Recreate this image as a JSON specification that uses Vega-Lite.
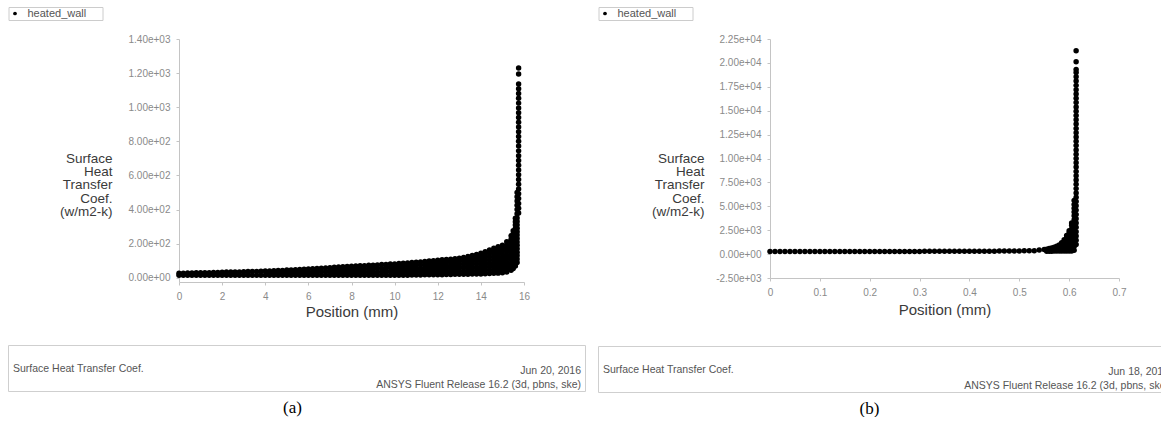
{
  "$schema": "https://vega.github.io/schema/vega-lite/v6.json",
  "background": "white",
  "padding": {"left": 7, "top": 6, "right": 0, "bottom": 0},
  "config": {
    "view": {"stroke": null},
    "font": "Liberation Sans",
    "axis": {"grid": false, "domainColor": "#c4c4c4", "tickColor": "#c4c4c4", "tickSize": 3, "labelColor": "#8a8a8a", "labelFontSize": 10, "labelPadding": 6, "titleColor": "#3a3a3a", "titleFontWeight": "normal", "titleFontSize": 15, "labelOverlap": false, "labelFlush": false},
    "legend": {"orient": "none", "legendX": 0.5, "legendY": -32, "strokeColor": "#cccccc", "fillColor": "white", "padding": 1, "symbolType": "circle", "symbolSize": 14, "labelFontSize": 11, "labelColor": "#555555", "labelOffset": 7},
    "title": {"font": "Liberation Serif", "fontSize": 17, "fontWeight": "normal", "color": "#000000"}
  },
  "datasets": {
    "a": [
      {"position":0,"htc":14},{"position":0,"htc":27},{"position":0.2,"htc":14},{"position":0.2,"htc":27},{"position":0.4,"htc":14},{"position":0.4,"htc":28},{"position":0.6,"htc":14},{"position":0.6,"htc":28},{"position":0.8,"htc":14},{"position":0.8,"htc":29},{"position":1,"htc":14},{"position":1,"htc":29},{"position":1.2,"htc":14},{"position":1.2,"htc":30},{"position":1.4,"htc":14},{"position":1.4,"htc":30},{"position":1.6,"htc":14},{"position":1.6,"htc":31},{"position":1.8,"htc":14},{"position":1.8,"htc":31},{"position":2,"htc":14},{"position":2,"htc":32},{"position":2.2,"htc":14},{"position":2.2,"htc":33},{"position":2.4,"htc":14},{"position":2.4,"htc":33},{"position":2.6,"htc":14},{"position":2.6,"htc":34},{"position":2.8,"htc":14},{"position":2.8,"htc":34},{"position":3,"htc":14},{"position":3,"htc":35},{"position":3.2,"htc":14},{"position":3.2,"htc":36},{"position":3.4,"htc":14},{"position":3.4,"htc":36},{"position":3.6,"htc":14},{"position":3.6,"htc":37},{"position":3.8,"htc":14},{"position":3.8,"htc":38},{"position":4,"htc":14},{"position":4,"htc":39},
      {"position":4.2,"htc":14},{"position":4.2,"htc":27},{"position":4.2,"htc":40},{"position":4.4,"htc":14},{"position":4.4,"htc":27},{"position":4.4,"htc":41},{"position":4.6,"htc":14},{"position":4.6,"htc":28},{"position":4.6,"htc":42},{"position":4.8,"htc":14},{"position":4.8,"htc":28},{"position":4.8,"htc":43},{"position":5,"htc":14},{"position":5,"htc":29},{"position":5,"htc":45},{"position":5.2,"htc":14},{"position":5.2,"htc":30},{"position":5.2,"htc":46},{"position":5.4,"htc":14},{"position":5.4,"htc":30},{"position":5.4,"htc":47},{"position":5.6,"htc":14},{"position":5.6,"htc":31},{"position":5.6,"htc":48},{"position":5.8,"htc":14},{"position":5.8,"htc":32},{"position":5.8,"htc":50},{"position":6,"htc":14},{"position":6,"htc":32},{"position":6,"htc":51},{"position":6.2,"htc":14},{"position":6.2,"htc":33},{"position":6.2,"htc":53},{"position":6.4,"htc":14},{"position":6.4,"htc":34},{"position":6.4,"htc":54},{"position":6.6,"htc":14},{"position":6.6,"htc":35},{"position":6.6,"htc":56},{"position":6.8,"htc":14},{"position":6.8,"htc":35},{"position":6.8,"htc":57},{"position":7,"htc":14},{"position":7,"htc":36},{"position":7,"htc":59},
      {"position":7.2,"htc":14},{"position":7.2,"htc":30},{"position":7.2,"htc":45},{"position":7.2,"htc":61},{"position":7.4,"htc":14},{"position":7.4,"htc":31},{"position":7.4,"htc":47},{"position":7.4,"htc":63},{"position":7.6,"htc":14},{"position":7.6,"htc":31},{"position":7.6,"htc":48},{"position":7.6,"htc":65},{"position":7.8,"htc":14},{"position":7.8,"htc":32},{"position":7.8,"htc":49},{"position":7.8,"htc":66},{"position":8,"htc":14},{"position":8,"htc":32},{"position":8,"htc":50},{"position":8,"htc":68},{"position":8.2,"htc":14},{"position":8.2,"htc":32},{"position":8.2,"htc":51},{"position":8.2,"htc":69},{"position":8.4,"htc":14},{"position":8.4,"htc":33},{"position":8.4,"htc":51},{"position":8.4,"htc":70},{"position":8.6,"htc":14},{"position":8.6,"htc":33},{"position":8.6,"htc":52},{"position":8.6,"htc":71},{"position":8.8,"htc":14},{"position":8.8,"htc":34},{"position":8.8,"htc":53},{"position":8.8,"htc":73},{"position":9,"htc":14},{"position":9,"htc":34},{"position":9,"htc":54},{"position":9,"htc":74},{"position":9.2,"htc":14},{"position":9.2,"htc":34},{"position":9.2,"htc":55},{"position":9.2,"htc":75},{"position":9.4,"htc":14},{"position":9.4,"htc":35},{"position":9.4,"htc":56},{"position":9.4,"htc":77},{"position":9.6,"htc":14},{"position":9.6,"htc":35},{"position":9.6,"htc":57},{"position":9.6,"htc":78},{"position":9.8,"htc":14},{"position":9.8,"htc":36},{"position":9.8,"htc":58},{"position":9.8,"htc":80},
      {"position":10,"htc":14},{"position":10,"htc":31},{"position":10,"htc":47},{"position":10,"htc":64},{"position":10,"htc":81},{"position":10.2,"htc":14},{"position":10.2,"htc":31},{"position":10.2,"htc":48},{"position":10.2,"htc":66},{"position":10.2,"htc":83},{"position":10.4,"htc":15},{"position":10.4,"htc":32},{"position":10.4,"htc":49},{"position":10.4,"htc":67},{"position":10.4,"htc":85},{"position":10.6,"htc":15},{"position":10.6,"htc":33},{"position":10.6,"htc":51},{"position":10.6,"htc":69},{"position":10.6,"htc":87},{"position":10.8,"htc":16},{"position":10.8,"htc":34},{"position":10.8,"htc":52},{"position":10.8,"htc":71},{"position":10.8,"htc":89},{"position":11,"htc":16},{"position":11,"htc":35},{"position":11,"htc":53},{"position":11,"htc":72},{"position":11,"htc":91},{"position":11.2,"htc":16},{"position":11.2,"htc":35},{"position":11.2,"htc":54},{"position":11.2,"htc":74},{"position":11.2,"htc":93},{"position":11.4,"htc":17},{"position":11.4,"htc":36},{"position":11.4,"htc":56},{"position":11.4,"htc":76},{"position":11.4,"htc":96},{"position":11.6,"htc":17},{"position":11.6,"htc":37},{"position":11.6,"htc":57},{"position":11.6,"htc":78},{"position":11.6,"htc":98},
      {"position":11.8,"htc":18},{"position":11.8,"htc":34},{"position":11.8,"htc":51},{"position":11.8,"htc":67},{"position":11.8,"htc":84},{"position":11.8,"htc":100},{"position":12,"htc":18},{"position":12,"htc":35},{"position":12,"htc":52},{"position":12,"htc":69},{"position":12,"htc":86},{"position":12,"htc":103},{"position":12.2,"htc":18},{"position":12.2,"htc":35},{"position":12.2,"htc":53},{"position":12.2,"htc":70},{"position":12.2,"htc":88},{"position":12.2,"htc":105},{"position":12.4,"htc":19},{"position":12.4,"htc":36},{"position":12.4,"htc":54},{"position":12.4,"htc":71},{"position":12.4,"htc":89},{"position":12.4,"htc":107},{"position":12.6,"htc":19},{"position":12.6,"htc":37},{"position":12.6,"htc":55},{"position":12.6,"htc":72},{"position":12.6,"htc":91},{"position":12.6,"htc":109},{"position":12.8,"htc":20},{"position":12.8,"htc":38},{"position":12.8,"htc":56},{"position":12.8,"htc":75},{"position":12.8,"htc":93},{"position":12.8,"htc":112},{"position":13,"htc":20},{"position":13,"htc":39},{"position":13,"htc":58},{"position":13,"htc":77},{"position":13,"htc":96},{"position":13,"htc":115},{"position":13.2,"htc":21},{"position":13.2,"htc":40},{"position":13.2,"htc":60},{"position":13.2,"htc":80},{"position":13.2,"htc":99},{"position":13.2,"htc":119},
      {"position":13.4,"htc":21},{"position":13.4,"htc":38},{"position":13.4,"htc":55},{"position":13.4,"htc":72},{"position":13.4,"htc":90},{"position":13.4,"htc":107},{"position":13.4,"htc":124},{"position":13.6,"htc":22},{"position":13.6,"htc":40},{"position":13.6,"htc":58},{"position":13.6,"htc":77},{"position":13.6,"htc":95},{"position":13.6,"htc":113},{"position":13.6,"htc":131},{"position":13.8,"htc":22},{"position":13.8,"htc":41},{"position":13.8,"htc":60},{"position":13.8,"htc":80},{"position":13.8,"htc":99},{"position":13.8,"htc":118},{"position":13.8,"htc":137},
      {"position":14,"htc":22},{"position":14,"htc":39},{"position":14,"htc":57},{"position":14,"htc":74},{"position":14,"htc":92},{"position":14,"htc":109},{"position":14,"htc":127},{"position":14,"htc":144},{"position":14.2,"htc":24},{"position":14.2,"htc":42},{"position":14.2,"htc":61},{"position":14.2,"htc":79},{"position":14.2,"htc":98},{"position":14.2,"htc":116},{"position":14.2,"htc":135},{"position":14.2,"htc":153},{"position":14.4,"htc":25},{"position":14.4,"htc":45},{"position":14.4,"htc":64},{"position":14.4,"htc":84},{"position":14.4,"htc":104},{"position":14.4,"htc":124},{"position":14.4,"htc":143},{"position":14.4,"htc":163},
      {"position":14.6,"htc":26},{"position":14.6,"htc":44},{"position":14.6,"htc":63},{"position":14.6,"htc":81},{"position":14.6,"htc":100},{"position":14.6,"htc":118},{"position":14.6,"htc":136},{"position":14.6,"htc":155},{"position":14.6,"htc":173},{"position":14.8,"htc":27},{"position":14.8,"htc":46},{"position":14.8,"htc":66},{"position":14.8,"htc":85},{"position":14.8,"htc":105},{"position":14.8,"htc":124},{"position":14.8,"htc":143},{"position":14.8,"htc":163},{"position":14.8,"htc":182},
      {"position":15,"htc":29},{"position":15,"htc":47},{"position":15,"htc":65},{"position":15,"htc":83},{"position":15,"htc":101},{"position":15,"htc":119},{"position":15,"htc":137},{"position":15,"htc":155},{"position":15,"htc":173},{"position":15,"htc":191},
      {"position":15.2,"htc":34},{"position":15.2,"htc":54},{"position":15.2,"htc":73},{"position":15.2,"htc":93},{"position":15.2,"htc":113},{"position":15.2,"htc":132},{"position":15.2,"htc":152},{"position":15.2,"htc":172},{"position":15.2,"htc":191},{"position":15.2,"htc":211},
      {"position":15.4,"htc":44},{"position":15.4,"htc":64},{"position":15.4,"htc":84},{"position":15.4,"htc":105},{"position":15.4,"htc":125},{"position":15.4,"htc":145},{"position":15.4,"htc":165},{"position":15.4,"htc":185},{"position":15.4,"htc":206},{"position":15.4,"htc":226},{"position":15.4,"htc":246},
      {"position":15.5,"htc":54},{"position":15.5,"htc":74},{"position":15.5,"htc":94},{"position":15.5,"htc":115},{"position":15.5,"htc":135},{"position":15.5,"htc":155},{"position":15.5,"htc":175},{"position":15.5,"htc":195},{"position":15.5,"htc":216},{"position":15.5,"htc":236},{"position":15.5,"htc":256},{"position":15.5,"htc":276},
      {"position":15.6,"htc":69},{"position":15.6,"htc":89},{"position":15.6,"htc":109},{"position":15.6,"htc":129},{"position":15.6,"htc":149},{"position":15.6,"htc":169},{"position":15.6,"htc":189},{"position":15.6,"htc":209},{"position":15.6,"htc":229},{"position":15.6,"htc":249},{"position":15.6,"htc":269},{"position":15.6,"htc":289},{"position":15.6,"htc":309},{"position":15.6,"htc":329},{"position":15.6,"htc":349},
      {"position":15.68,"htc":90},{"position":15.68,"htc":110},{"position":15.68,"htc":130},{"position":15.68,"htc":150},{"position":15.68,"htc":170},{"position":15.68,"htc":190},{"position":15.68,"htc":210},{"position":15.68,"htc":230},{"position":15.68,"htc":250},{"position":15.68,"htc":270},{"position":15.68,"htc":290},{"position":15.68,"htc":310},{"position":15.68,"htc":330},{"position":15.68,"htc":350},{"position":15.68,"htc":375},{"position":15.68,"htc":400},{"position":15.68,"htc":425},{"position":15.68,"htc":450},{"position":15.68,"htc":475},{"position":15.68,"htc":500},
      {"position":15.75,"htc":380},{"position":15.75,"htc":408},{"position":15.75,"htc":436},{"position":15.75,"htc":464},{"position":15.75,"htc":492},{"position":15.75,"htc":520},{"position":15.75,"htc":548},{"position":15.75,"htc":576},{"position":15.75,"htc":604},{"position":15.75,"htc":632},{"position":15.75,"htc":660},{"position":15.75,"htc":688},{"position":15.75,"htc":716},{"position":15.75,"htc":744},{"position":15.75,"htc":772},{"position":15.75,"htc":800},{"position":15.75,"htc":828},{"position":15.75,"htc":856},{"position":15.75,"htc":884},{"position":15.75,"htc":912},{"position":15.75,"htc":940},{"position":15.75,"htc":968},{"position":15.75,"htc":996},{"position":15.75,"htc":1024},{"position":15.75,"htc":1052},{"position":15.75,"htc":1080},{"position":15.75,"htc":1108},{"position":15.75,"htc":1136},{"position":15.75,"htc":1195},{"position":15.75,"htc":1230}
    ],
    "b": [
      {"position":0,"htc":280},{"position":0.01,"htc":280},{"position":0.02,"htc":280},{"position":0.03,"htc":280},{"position":0.04,"htc":280},{"position":0.05,"htc":280},{"position":0.06,"htc":280},{"position":0.07,"htc":280},{"position":0.08,"htc":280},{"position":0.09,"htc":280},{"position":0.1,"htc":280},{"position":0.11,"htc":280},{"position":0.12,"htc":280},{"position":0.13,"htc":280},{"position":0.14,"htc":280},{"position":0.15,"htc":280},{"position":0.16,"htc":280},{"position":0.17,"htc":280},{"position":0.18,"htc":280},{"position":0.19,"htc":280},{"position":0.2,"htc":280},{"position":0.21,"htc":280},{"position":0.22,"htc":280},{"position":0.23,"htc":280},{"position":0.24,"htc":280},{"position":0.25,"htc":280},{"position":0.26,"htc":280},{"position":0.27,"htc":280},{"position":0.28,"htc":280},{"position":0.29,"htc":280},{"position":0.3,"htc":280},{"position":0.31,"htc":290},{"position":0.32,"htc":290},{"position":0.33,"htc":290},{"position":0.34,"htc":290},{"position":0.35,"htc":290},{"position":0.36,"htc":290},{"position":0.37,"htc":290},{"position":0.38,"htc":290},{"position":0.39,"htc":290},{"position":0.4,"htc":290},{"position":0.41,"htc":290},{"position":0.42,"htc":290},{"position":0.43,"htc":290},{"position":0.44,"htc":290},{"position":0.45,"htc":290},{"position":0.46,"htc":320},{"position":0.47,"htc":320},{"position":0.48,"htc":320},{"position":0.49,"htc":320},{"position":0.5,"htc":320},{"position":0.51,"htc":360},{"position":0.52,"htc":360},{"position":0.53,"htc":360},{"position":0.54,"htc":420},{"position":0.55,"htc":480},
      {"position":0.555,"htc":300},{"position":0.555,"htc":520},{"position":0.56,"htc":300},{"position":0.56,"htc":580},{"position":0.565,"htc":300},{"position":0.565,"htc":650},{"position":0.57,"htc":320},{"position":0.57,"htc":720},{"position":0.575,"htc":320},{"position":0.575,"htc":560},{"position":0.575,"htc":820},{"position":0.58,"htc":330},{"position":0.58,"htc":620},{"position":0.58,"htc":950},{"position":0.585,"htc":330},{"position":0.585,"htc":640},{"position":0.585,"htc":960},{"position":0.585,"htc":1200},
      {"position":0.59,"htc":330},{"position":0.59,"htc":640},{"position":0.59,"htc":950},{"position":0.59,"htc":1260},{"position":0.59,"htc":1500},{"position":0.595,"htc":330},{"position":0.595,"htc":675},{"position":0.595,"htc":1020},{"position":0.595,"htc":1365},{"position":0.595,"htc":1710},{"position":0.595,"htc":1950},
      {"position":0.6,"htc":330},{"position":0.6,"htc":706},{"position":0.6,"htc":1082},{"position":0.6,"htc":1458},{"position":0.6,"htc":1834},{"position":0.6,"htc":2210},{"position":0.6,"htc":2450},{"position":0.605,"htc":330},{"position":0.605,"htc":713},{"position":0.605,"htc":1096},{"position":0.605,"htc":1479},{"position":0.605,"htc":1862},{"position":0.605,"htc":2245},{"position":0.605,"htc":2628},{"position":0.605,"htc":3010},{"position":0.605,"htc":3250},
      {"position":0.61,"htc":400},{"position":0.61,"htc":800},{"position":0.61,"htc":1200},{"position":0.61,"htc":1600},{"position":0.61,"htc":2000},{"position":0.61,"htc":2400},{"position":0.61,"htc":2800},{"position":0.61,"htc":3200},{"position":0.61,"htc":3600},{"position":0.61,"htc":4000},{"position":0.61,"htc":4400},{"position":0.61,"htc":4800},{"position":0.61,"htc":5200},{"position":0.61,"htc":5600},
      {"position":0.614,"htc":1000},{"position":0.614,"htc":1450},{"position":0.614,"htc":1900},{"position":0.614,"htc":2350},{"position":0.614,"htc":2800},{"position":0.614,"htc":3250},{"position":0.614,"htc":3700},{"position":0.614,"htc":4150},{"position":0.614,"htc":4600},{"position":0.614,"htc":5050},{"position":0.614,"htc":5500},{"position":0.614,"htc":5950},{"position":0.614,"htc":6400},{"position":0.614,"htc":6850},{"position":0.614,"htc":7300},{"position":0.614,"htc":7750},{"position":0.614,"htc":8200},{"position":0.614,"htc":8650},{"position":0.614,"htc":9100},{"position":0.614,"htc":9550},{"position":0.614,"htc":10000},{"position":0.614,"htc":10450},{"position":0.614,"htc":10900},{"position":0.614,"htc":11350},{"position":0.614,"htc":11800},{"position":0.614,"htc":12250},{"position":0.614,"htc":12700},{"position":0.614,"htc":13150},{"position":0.614,"htc":13600},{"position":0.614,"htc":14050},{"position":0.614,"htc":14500},{"position":0.614,"htc":14950},{"position":0.614,"htc":15400},{"position":0.614,"htc":15850},{"position":0.614,"htc":16300},{"position":0.614,"htc":16750},{"position":0.614,"htc":17200},{"position":0.614,"htc":17650},{"position":0.614,"htc":18100},{"position":0.614,"htc":18550},{"position":0.614,"htc":19000},{"position":0.614,"htc":19300},{"position":0.614,"htc":20124},{"position":0.614,"htc":21266}
    ],
    "footA": [
      {"label": "Surface Heat Transfer Coef.", "side": "left"},
      {"label": "Jun 20, 2016\nANSYS Fluent Release 16.2 (3d, pbns, ske)", "side": "right"}
    ],
    "footB": [
      {"label": "Surface Heat Transfer Coef.", "side": "left"},
      {"label": "Jun 18, 2016\nANSYS Fluent Release 16.2 (3d, pbns, ske)", "side": "right"}
    ]
  },
  "hconcat": [
    {
      "title": {"text": "(a)", "orient": "bottom", "anchor": "middle", "offset": 8, "dx": -4},
      "vconcat": [
        {
          "width": 577,
          "height": 243,
          "data": {"name": "a"},
          "mark": {"type": "point", "filled": true, "size": 30, "opacity": 1},
          "encoding": {
            "x": {"field": "position", "type": "quantitative", "scale": {"domain": [0, 16], "range": [171, 516], "nice": false, "zero": false}, "axis": {"title": "Position (mm)", "values": [0, 2, 4, 6, 8, 10, 12, 14, 16], "titlePadding": 3}},
            "y": {"field": "htc", "type": "quantitative", "scale": {"domain": [-25, 1400], "nice": false, "zero": false}, "axis": {"offset": -171, "title": ["Surface", "Heat", "Transfer", "Coef.", "(w/m2-k)"], "values": [0, 200, 400, 600, 800, 1000, 1200, 1400], "labelExpr": "replace(replace(format(datum.value, '.2e'), 'e+', 'e+0'), '\u2212', '-')", "titleAngle": 0, "titleAlign": "right", "titleBaseline": "top", "titleX": -67, "titleY": 112, "titleFontSize": 13.5, "titleLineHeight": 13.4}},
            "color": {"datum": "heated_wall", "scale": {"range": ["#000000"]}, "legend": {"title": null, "labelExpr": "datum.label + '\u00a0\u00a0\u00a0\u00a0\u00a0\u200b'"}}
          }
        },
        {
          "width": 577,
          "height": 46,
          "view": {"stroke": "#cfcfcf", "strokeWidth": 1},
          "data": {"name": "footA"},
          "layer": [
            {
              "transform": [{"filter": "datum.side == 'left'"}],
              "mark": {"type": "text", "align": "left", "baseline": "middle", "dx": 5, "dy": 1, "fontSize": 10.5, "color": "#555555"},
              "encoding": {
                "x": {"datum": 0, "type": "quantitative", "scale": {"domain": [0, 1]}, "axis": null},
                "y": {"datum": 0.5, "type": "quantitative", "scale": {"domain": [0, 1]}, "axis": null},
                "text": {"field": "label"}
              }
            },
            {
              "transform": [{"filter": "datum.side == 'right'"}],
              "mark": {"type": "text", "align": "right", "baseline": "middle", "dx": -4, "dy": 3, "fontSize": 10.5, "lineHeight": 13.5, "lineBreak": "\n", "color": "#555555"},
              "encoding": {
                "x": {"datum": 1, "type": "quantitative", "scale": {"domain": [0, 1]}, "axis": null},
                "y": {"datum": 0.5, "type": "quantitative", "scale": {"domain": [0, 1]}, "axis": null},
                "text": {"field": "label"}
              }
            }
          ]
        }
      ],
      "spacing": 25
    },
    {
      "title": {"text": "(b)", "orient": "bottom", "anchor": "middle", "offset": 8, "dx": -11},
      "vconcat": [
        {
          "width": 565,
          "height": 239,
          "data": {"name": "b"},
          "mark": {"type": "point", "filled": true, "size": 30, "opacity": 1},
          "encoding": {
            "x": {"field": "position", "type": "quantitative", "scale": {"domain": [0, 0.7], "range": [172, 521], "nice": false, "zero": false}, "axis": {"title": "Position (mm)", "values": [0, 0.1, 0.2, 0.3, 0.4, 0.5, 0.6, 0.7], "format": ".1~f", "titlePadding": 5}},
            "y": {"field": "htc", "type": "quantitative", "scale": {"domain": [-2500, 22500], "nice": false, "zero": false}, "axis": {"offset": -172, "title": ["Surface", "Heat", "Transfer", "Coef.", "(w/m2-k)"], "values": [-2500, 0, 2500, 5000, 7500, 10000, 12500, 15000, 17500, 20000, 22500], "labelExpr": "replace(replace(format(datum.value, '.2e'), 'e+', 'e+0'), '\u2212', '-')", "titleAngle": 0, "titleAlign": "right", "titleBaseline": "top", "titleX": -66, "titleY": 112, "titleFontSize": 13.5, "titleLineHeight": 13.4}},
            "color": {"datum": "heated_wall", "scale": {"range": ["#000000"]}, "legend": {"title": null, "labelExpr": "datum.label + '\u00a0\u00a0\u00a0\u00a0\u00a0\u200b'"}}
          }
        },
        {
          "width": 565,
          "height": 46,
          "view": {"stroke": "#cfcfcf", "strokeWidth": 1},
          "data": {"name": "footB"},
          "layer": [
            {
              "transform": [{"filter": "datum.side == 'left'"}],
              "mark": {"type": "text", "align": "left", "baseline": "middle", "dx": 5, "dy": 1, "fontSize": 10.5, "color": "#555555", "clip": true},
              "encoding": {
                "x": {"datum": 0, "type": "quantitative", "scale": {"domain": [0, 1]}, "axis": null},
                "y": {"datum": 0.5, "type": "quantitative", "scale": {"domain": [0, 1]}, "axis": null},
                "text": {"field": "label"}
              }
            },
            {
              "transform": [{"filter": "datum.side == 'right'"}],
              "mark": {"type": "text", "align": "right", "baseline": "middle", "dx": 6, "dy": 3, "fontSize": 10.5, "lineHeight": 13.5, "lineBreak": "\n", "color": "#555555", "clip": true},
              "encoding": {
                "x": {"datum": 1, "type": "quantitative", "scale": {"domain": [0, 1]}, "axis": null},
                "y": {"datum": 0.5, "type": "quantitative", "scale": {"domain": [0, 1]}, "axis": null},
                "text": {"field": "label"}
              }
            }
          ]
        }
      ],
      "spacing": 28
    }
  ],
  "spacing": 11,
  "resolve": {"scale": {"color": "independent"}, "legend": {"color": "independent"}}
}
